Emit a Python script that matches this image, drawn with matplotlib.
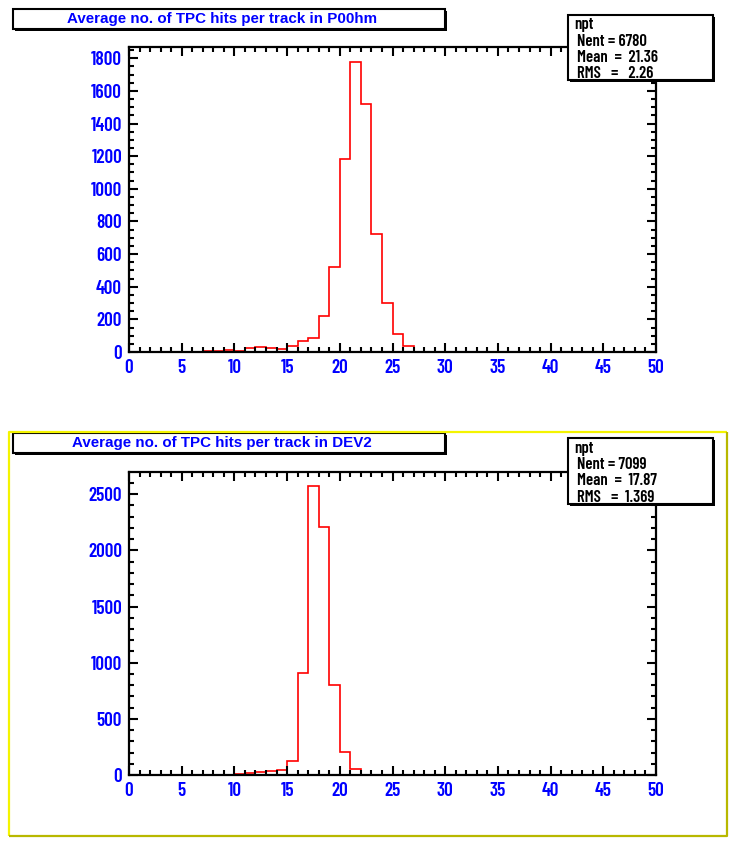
import numpy as np
import matplotlib
matplotlib.use("Agg")
import matplotlib.pyplot as plt
from matplotlib.patches import Rectangle
from matplotlib.ticker import MultipleLocator

# Histogramme du haut : P00hm, bins de largeur 1 à partir de 7
p00_first_bin = 7
p00_counts = [8, 8, 14, 8, 25, 33, 27, 21, 39, 70, 87, 218, 522, 1180, 1780,
              1520, 726, 299, 108, 35]
p00_title = "Average no. of TPC hits per track in P00hm"
p00_stats = ["npt", "Nent = 6780", "Mean  =  21.36", "RMS   =   2.26"]

# Histogramme du bas : DEV2, bins de largeur 1 à partir de 10
dev2_first_bin = 10
dev2_counts = [12, 20, 27, 35, 44, 124, 905, 2570, 2210, 799, 204, 53]
dev2_title = "Average no. of TPC hits per track in DEV2"
dev2_stats = ["npt", "Nent = 7099", "Mean  =  17.87", "RMS   =  1.369"]

W, H = 736, 846
NARROW = ["Barlow Condensed", "DejaVu Sans"]
SANS = ["Liberation Sans", "DejaVu Sans"]

fig = plt.figure(figsize=(W / 100, H / 100), dpi=100)


#Axes placées en pixels (haut-gauche)
def px_axes(x0, y0, x1, y1):
    return fig.add_axes([x0 / W, 1 - y1 / H, (x1 - x0) / W, (y1 - y0) / H])


#Dessine un histogramme façon ROOT
def draw_hist(ax, first, counts, ymax, major, minor):
    edges = np.arange(first, first + len(counts) + 1)
    ax.stairs(counts, edges, color="red", lw=1.2, baseline=0)
    ax.set_xlim(0, 50)
    ax.set_ylim(0, ymax)
    ax.xaxis.set_major_locator(MultipleLocator(5))
    ax.xaxis.set_minor_locator(MultipleLocator(1))
    ax.yaxis.set_major_locator(MultipleLocator(major))
    ax.yaxis.set_minor_locator(MultipleLocator(minor))
    ax.tick_params(which="both", direction="in", top=True, right=True,
                   width=1.5, colors="black", labelcolor="blue")
    ax.tick_params(which="major", length=6.5, pad=5)
    ax.tick_params(which="minor", length=3.6)
    for sp in ax.spines.values():
        sp.set_linewidth(1.6)
    for lab in ax.get_xticklabels() + ax.get_yticklabels():
        lab.set_fontfamily(NARROW)
        lab.set_fontsize(13.8)
        lab.set_fontweight(600)


ax1 = px_axes(129, 47, 656, 352)
draw_hist(ax1, p00_first_bin, p00_counts, 1869, 200, 50)

ax2 = px_axes(129, 472, 656, 775)
draw_hist(ax2, dev2_first_bin, dev2_counts, 2698, 500, 100)

# calque en pixels pour les boites
ov = fig.add_axes([0, 0, 1, 1], facecolor="none")
ov.set_xlim(0, W)
ov.set_ylim(H, 0)
ov.axis("off")


def shadow_box(x0, y0, x1, y1):
    ov.add_patch(Rectangle((x0 + 2, y0 + 2), x1 - x0, y1 - y0,
                           facecolor="black", edgecolor="black", lw=0))
    ov.add_patch(Rectangle((x0, y0), x1 - x0, y1 - y0,
                           facecolor="white", edgecolor="black", lw=1.5))


#Titre + boite de stats
def decor(y_title, title, y_stats0, y_stats1, stats):
    shadow_box(13, y_title, 445, y_title + 20)
    ov.text(222, y_title + 10.5, title, color="blue", ha="center", va="center",
            fontsize=10.9, family=SANS, fontweight="bold")
    shadow_box(568, y_stats0, 713, y_stats1)
    ys = np.linspace(y_stats0 + 10, y_stats1 - 7, len(stats))
    for i, (t, y) in enumerate(zip(stats, ys)):
        ov.text(574 if i == 0 else 577, y, t, ha="left", va="center",
                fontsize=12, family=NARROW, fontweight=600)


decor(9, p00_title, 15, 80, p00_stats)

# cadre jaune du second pad
ov.plot([9, 9, 727], [836, 432, 432], color="#f4f400", lw=1.6,
        solid_capstyle="butt")
ov.plot([727, 727, 9], [432, 836, 836], color="#b8b800", lw=1.6,
        solid_capstyle="butt")

decor(433, dev2_title, 438, 504, dev2_stats)

fig.savefig("out.png", dpi=100)
